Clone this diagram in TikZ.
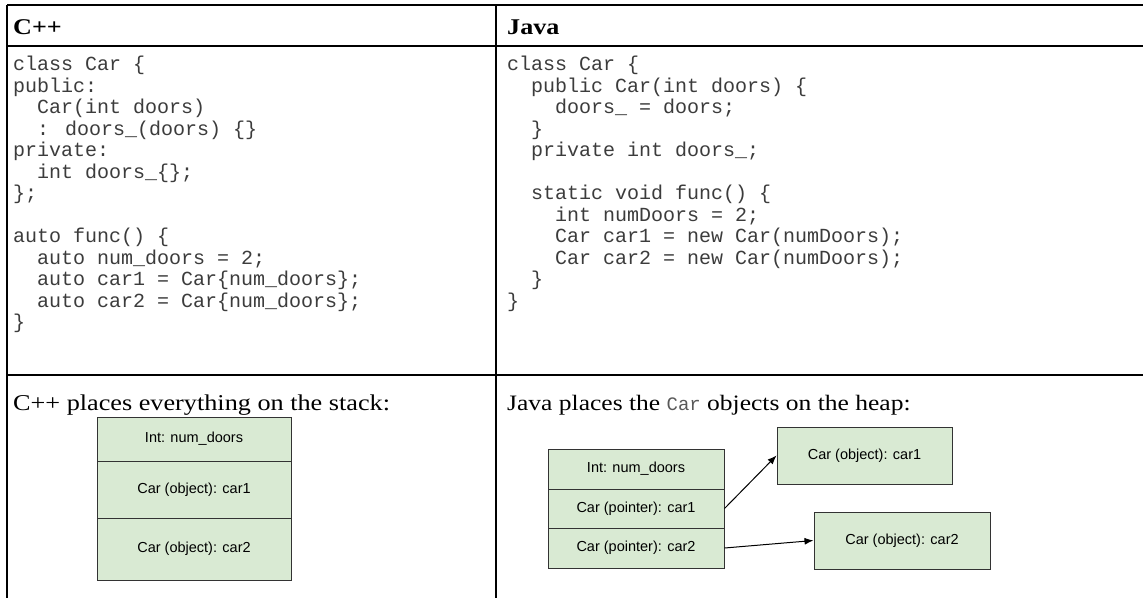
\documentclass[tikz,border=0pt]{standalone}
\usepackage{fontspec}
\usetikzlibrary{arrows.meta}
\newfontfamily\serifx{Liberation Serif}[FakeStretch=1.16]
\newfontfamily\codefont{Liberation Mono}
\newfontfamily\boxfont{Liberation Sans}
\definecolor{cellfill}{HTML}{D9EAD3}
\definecolor{celldraw}{HTML}{333333}
\definecolor{codegray}{HTML}{3C3C3C}
\tikzset{
  rule/.style={line width=1.8pt, black},
  head/.style={anchor=base west, inner sep=0pt, font=\serifx\bfseries\fontsize{22.5pt}{26pt}\selectfont},
  codeblock/.style={anchor=north west, inner sep=0pt, align=left, text=codegray, font=\codefont\fontsize{20pt}{21.5pt}\selectfont},
  sentence/.style={anchor=base west, inner sep=0pt, font=\serifx\fontsize{22.6pt}{26pt}\selectfont},
  cell/.style={draw=celldraw, fill=cellfill, line width=1pt, inner sep=0pt, font=\boxfont\fontsize{14.5pt}{17pt}\selectfont},
  ptr/.style={line width=1pt, black, -{Latex[length=9pt,width=7pt]}}
}
\begin{document}
\begin{tikzpicture}[x=1pt,y=-1pt]
\useasboundingbox (0,0) rectangle (1143,598);
% table rules
\draw[rule] (7,5) -- (1143,5);
\draw[rule] (7,46) -- (1143,46);
\draw[rule] (7,375) -- (1143,375);
\draw[rule] (7,5) -- (7,598);
\draw[rule] (496,5) -- (496,598);
% headers
\node[head] (hcpp) at (13,34.5) {C++};
\node[head] (hjava) at (507,34.5) {Java};
% code
\node[codeblock] (cppcode) at (13,56) {class Car \{\\
public:\\
~~Car(int doors)\\
~~: doors\_(doors) \{\}\\
private:\\
~~int doors\_\{\};\\
\};\\
\strut\\
auto func() \{\\
~~auto num\_doors = 2;\\
~~auto car1 = Car\{num\_doors\};\\
~~auto car2 = Car\{num\_doors\};\\
\}};
\node[codeblock] (javacode) at (507,56) {class Car \{\\
~~public Car(int doors) \{\\
~~~~doors\_ = doors;\\
~~\}\\
~~private int doors\_;\\
\strut\\
~~static void func() \{\\
~~~~int numDoors = 2;\\
~~~~Car car1 = new Car(numDoors);\\
~~~~Car car2 = new Car(numDoors);\\
~~\}\\
\}};
% sentences
\node[sentence] (scpp) at (13,410) {C++ places everything on the stack:};
\node[sentence, font=\serifx\fontsize{22pt}{26pt}\selectfont] (sjava) at (507,410) {Java places the {\codefont\fontsize{19pt}{20pt}\selectfont\color{black!65}Car} objects on the heap:};
% C++ stack
\node[cell, minimum width=194pt, minimum height=44pt] (c1) at (194,439) {Int: num\_doors};
\node[cell, minimum width=194pt, minimum height=57pt] (c2) at (194,489.5) {Car (object): car1};
\node[cell, minimum width=194pt, minimum height=62pt] (c3) at (194,549) {Car (object): car2};
% Java stack
\node[cell, minimum width=176pt, minimum height=40pt] (j1) at (636,469) {Int: num\_doors};
\node[cell, minimum width=176pt, minimum height=39pt] (j2) at (636,508.5) {Car (pointer): car1};
\node[cell, minimum width=176pt, minimum height=40pt] (j3) at (636,548) {Car (pointer): car2};
% heap
\node[cell, minimum width=175pt, minimum height=57pt] (h1) at (864.5,455.5) {Car (object): car1};
\node[cell, minimum width=176pt, minimum height=57pt] (h2) at (902,540.5) {Car (object): car2};
% pointers
\draw[ptr] (j2.east) -- (h1.west);
\draw[ptr] (j3.east) -- (h2.west);
\end{tikzpicture}
\end{document}
